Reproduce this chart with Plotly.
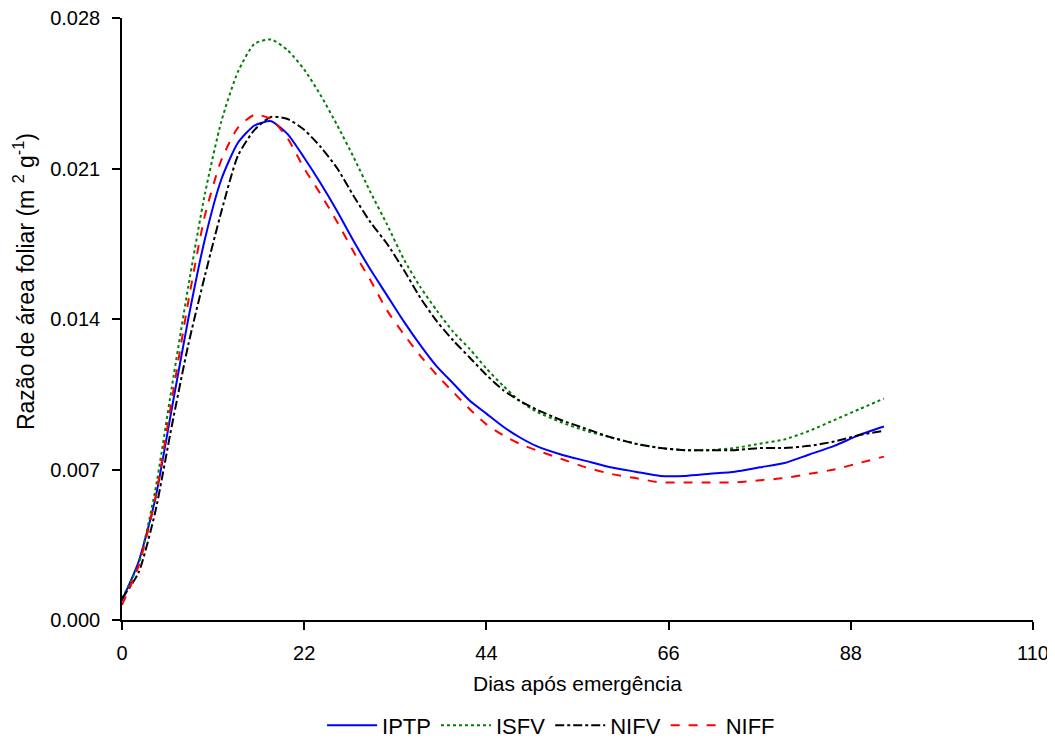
import plotly.graph_objects as go

days = [0, 2, 4, 6, 8, 10, 12, 14, 16, 18, 20, 22, 24, 26, 28, 30, 32, 34, 36, 38, 40,
        42, 44, 46, 48, 50, 53, 56, 59, 62, 65, 68, 71, 74, 77, 80, 83, 86, 89, 92]

iptp = [0.0009, 0.0027, 0.0056, 0.0098, 0.0140, 0.0177, 0.0205, 0.0222, 0.0230, 0.0232,
        0.0226, 0.0215, 0.0203, 0.0190, 0.0176, 0.0163, 0.0151, 0.0139, 0.0128, 0.0118,
        0.0110, 0.0102, 0.0096, 0.0090, 0.0085, 0.0081, 0.0077, 0.0074, 0.0071, 0.0069,
        0.0067, 0.0067, 0.0068, 0.0069, 0.0071, 0.0073, 0.0077, 0.0081, 0.0086, 0.0090]

isfv = [0.0010, 0.0026, 0.0060, 0.0108, 0.0155, 0.0198, 0.0232, 0.0255, 0.0268, 0.0270,
        0.0265, 0.0256, 0.0244, 0.0230, 0.0215, 0.0199, 0.0184, 0.0168, 0.0155, 0.0144,
        0.0134, 0.0126, 0.0117, 0.0109, 0.0102, 0.0097, 0.0092, 0.0088, 0.0085, 0.0082,
        0.0080, 0.0079, 0.0079, 0.0080, 0.0082, 0.0084, 0.0088, 0.0093, 0.0098, 0.0103]

nifv = [0.0010, 0.0022, 0.0050, 0.0090, 0.0128, 0.0160, 0.0190, 0.0216, 0.0228, 0.0234,
        0.0233, 0.0228, 0.0220, 0.0210, 0.0197, 0.0185, 0.0175, 0.0163, 0.0150, 0.0139,
        0.0130, 0.0122, 0.0114, 0.0107, 0.0102, 0.0098, 0.0093, 0.0089, 0.0085, 0.0082,
        0.0080, 0.0079, 0.0079, 0.0079, 0.0080, 0.0080, 0.0081, 0.0083, 0.0086, 0.0088]

niff = [0.0007, 0.0025, 0.0056, 0.0102, 0.0148, 0.0188, 0.0214, 0.0229, 0.0235, 0.0233,
        0.0224, 0.0210, 0.0198, 0.0185, 0.0171, 0.0158, 0.0144, 0.0133, 0.0123, 0.0114,
        0.0106, 0.0098, 0.0091, 0.0086, 0.0082, 0.0079, 0.0075, 0.0071, 0.0068, 0.0066,
        0.0064, 0.0064, 0.0064, 0.0064, 0.0065, 0.0066, 0.0068, 0.0070, 0.0073, 0.0076]

x_ticks = [0, 22, 44, 66, 88, 110]
y_ticks = [0.000, 0.007, 0.014, 0.021, 0.028]
y_labels = ["0.000", "0.007", "0.014", "0.021", "0.028"]

x_title = "Dias após emergência"
y_title = "Razão de área foliar (m <sup>2</sup> g<sup>-1</sup>)"

series = [
    ("IPTP", iptp, "#0000FF", "solid"),
    ("ISFV", isfv, "#008000", "dot"),
    ("NIFV", nifv, "#000000", "dashdot"),
    ("NIFF", niff, "#FF0000", "dash"),
]

fig = go.Figure()
for name, vals, color, dash in series:
    fig.add_trace(go.Scatter(
        x=days, y=vals, name=name, mode="lines",
        line=dict(color=color, width=2, dash=dash, shape="spline", smoothing=0.6),
    ))

font_family = "Liberation Sans, Arial, sans-serif"

fig.update_layout(
    width=1045, height=739,
    margin=dict(l=114, r=20, t=10, b=127, autoexpand=False),
    paper_bgcolor="white", plot_bgcolor="white",
    font=dict(family=font_family, size=20, color="black"),
    showlegend=True,
    legend=dict(orientation="h", x=0.471, xanchor="center", y=-0.21, yanchor="bottom",
                font=dict(size=22), traceorder="normal", itemwidth=50,
                bgcolor="rgba(0,0,0,0)"),
    xaxis=dict(
        range=[0, 110], tickvals=x_ticks, ticktext=[str(t) for t in x_ticks],
        showline=True, linecolor="black", linewidth=1.5,
        ticks="outside", ticklen=8, tickcolor="black", tickwidth=1.5,
        showgrid=False, zeroline=False, automargin=False,
        ticklabelstandoff=6, ticklabeloverflow="allow",
        title=dict(text=x_title, font=dict(size=21), standoff=14),
        tickfont=dict(size=20),
    ),
    yaxis=dict(
        range=[0, 0.028], tickvals=y_ticks, ticktext=y_labels,
        showline=True, linecolor="black", linewidth=1.5,
        ticks="outside", ticklen=8, tickcolor="black", tickwidth=1.5,
        showgrid=False, zeroline=False, automargin=False,
        ticklabelstandoff=8, ticklabeloverflow="allow",
        tickfont=dict(size=20),
    ),
    annotations=[dict(
        text=y_title, textangle=-90, showarrow=False,
        xref="paper", yref="paper", x=-0.1076, y=0.563,
        xanchor="center", yanchor="middle",
        font=dict(size=23, family=font_family, color="black"),
    )],
)

fig.write_html("out.html")
